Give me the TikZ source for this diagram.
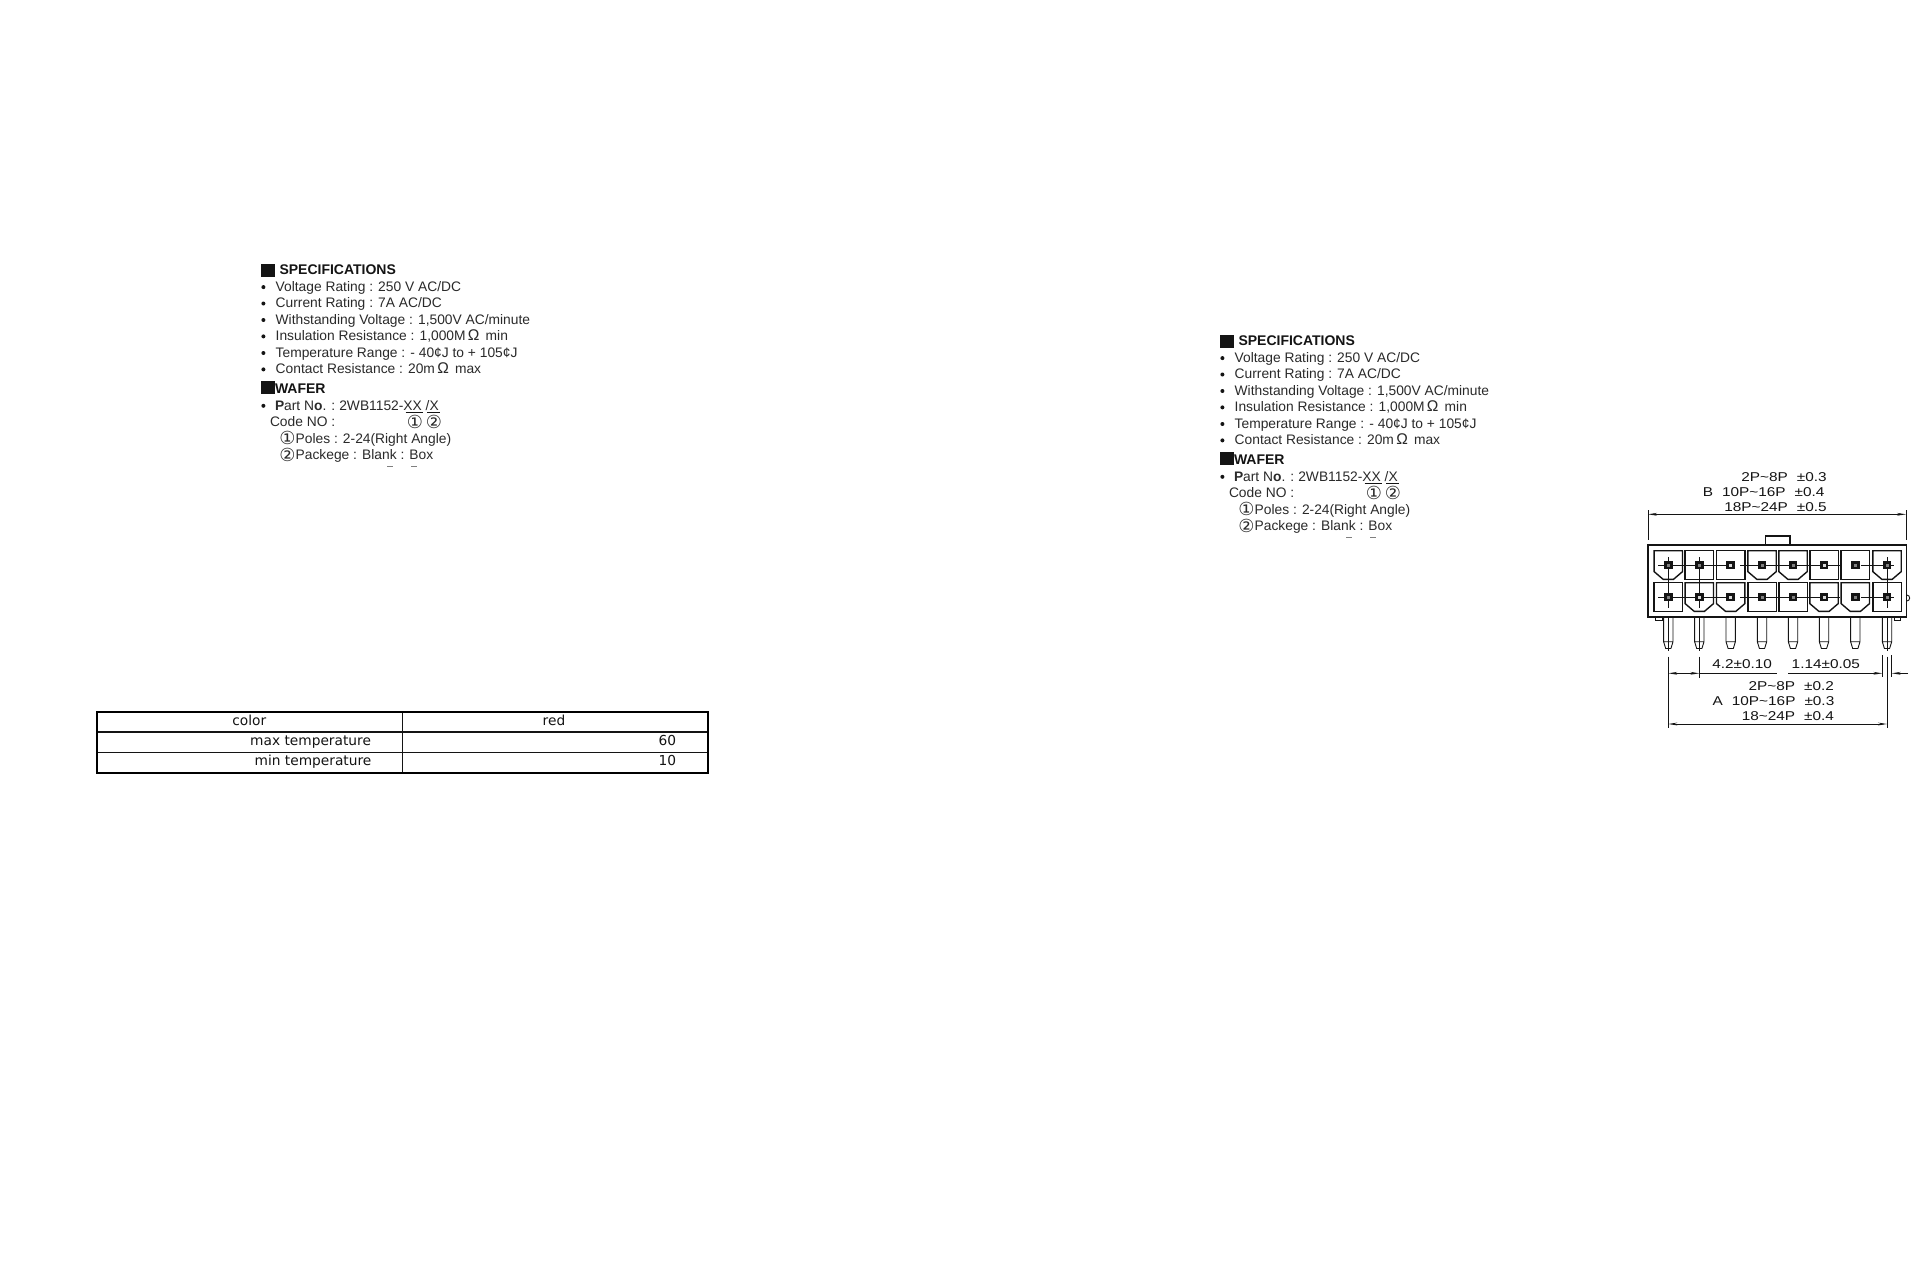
\documentclass[tikz,border=0pt]{standalone}
\usepackage{fontspec}
\usetikzlibrary{arrows.meta}
\setmainfont{Liberation Sans}
\newfontfamily\dejavu{DejaVu Sans}
\newfontfamily\cadfont[FakeStretch=1.2]{Liberation Sans}
\definecolor{ink}{HTML}{141414}
\definecolor{soft}{HTML}{2A2A2A}
\newcommand{\spectext}{\fontsize{13.8}{16}\selectfont\color{soft}}
\newcommand{\circtext}{\dejavu\fontsize{18}{18}\selectfont\color{soft}}
\newcommand{\tld}{\char"007E\relax}
\tikzset{
  x=1pt,y=-1pt,
  spec/.style={anchor=base west,inner sep=0pt,outer sep=0pt,font=\spectext},
  spechead/.style={anchor=base west,inner sep=0pt,outer sep=0pt,font=\fontsize{14}{16}\selectfont\bfseries\color{ink}},
  circ/.style={anchor=center,inner sep=0pt,outer sep=0pt,font=\circtext},
  tabletext/.style={inner sep=0pt,outer sep=0pt,anchor=base,font=\dejavu\fontsize{13.75}{16}\selectfont\color{ink}},
  cad/.style={inner sep=0pt,outer sep=0pt,anchor=base east,font=\cadfont\fontsize{12.8}{15}\selectfont\color{ink}},
  cadw/.style={inner sep=0pt,outer sep=0pt,anchor=base west,font=\cadfont\fontsize{12.8}{15}\selectfont\color{ink}},
  body/.style={draw=ink,line width=1.2pt,line join=miter},
  cellline/.style={draw=ink,line width=1.4pt,line join=miter},
  thinline/.style={draw=ink,line width=0.9pt},
  centre/.style={draw=ink,line width=0.8pt},
  dim/.style={draw=ink,line width=0.8pt,{Stealth[length=9pt,width=2.8pt]}-{Stealth[length=9pt,width=2.8pt]}},
  dimr/.style={draw=ink,line width=0.8pt,-{Stealth[length=9pt,width=2.8pt]}},
  specblock/.pic={
    \fill[ink] (261,263.5) rectangle (274.5,276.5);
    \node[spechead] (head) at (279.5,274.5) {SPECIFICATIONS};
    \foreach \yy/\tt in {291.3/{Voltage Rating : 250 V AC/DC},
                         307.7/{Current Rating : 7A AC/DC},
                         324.2/{Withstanding Voltage : 1,500V AC/minute},
                         340.6/{Insulation Resistance : 1,000M\,{\fontsize{15.5}{16}\selectfont Ω}\, min},
                         357.2/{Temperature Range : - 40¢J to + 105¢J},
                         373.6/{Contact Resistance : 20m\,{\fontsize{15.5}{16}\selectfont Ω}\, max}}{
      \fill[ink] (263.4,\yy-4.2) circle (2);
      \node[spec] at (275.7,\yy) {\tt};
    }
    \fill[ink] (261,381) rectangle (274.5,394);
    \node[spechead] (wafer) at (275,393) {WAFER};
    \fill[ink] (263.4,405.8) circle (2);
    \node[spec] (part) at (275,410) {{\bfseries P}art N{\bfseries o}. :};
    \node[spec] (code) at (339.3,410) {2WB1152-XX /X};
    \draw[thinline] (405.5,412.5) -- (423,412.5) (427,412.5) -- (440,412.5);
    \node[spec] (codeno) at (270,426.7) {Code NO :};
    \node[circ] (c1) at (415,422.2) {①};
    \node[circ] (c2) at (434,422.2) {②};
    \node[circ] (c3) at (287.5,438.2) {①};
    \node[spec] (poles) at (295.7,443.3) {Poles : 2-24(Right Angle)};
    \node[circ] (c4) at (287.5,454.7) {②};
    \node[spec] (pack) at (295.7,459.7) {Packege : Blank : Box};
    \draw[draw=soft!60,line width=0.9pt] (387,466.3) -- (393,466.3) (411,466.3) -- (417,466.3);
  }
}
\newcommand{\cellsquare}[2]{\draw[cellline] (#1-14.2,#2-14.3) rectangle (#1+14.2,#2+14.3);}
\newcommand{\cellchamfer}[2]{\draw[cellline] (#1-14.2,#2-14.3) -- (#1+14.2,#2-14.3) -- (#1+14.2,#2+6.6) -- (#1+5.2,#2+14.3) -- (#1-5.2,#2+14.3) -- (#1-14.2,#2+6.6) -- cycle;}
\newcommand{\pinsquare}[3]{\fill[ink] (#1-4.3,#2-4.3) rectangle (#1+4.3,#2+4.3);\fill[#3] (#1-1.5,#2-1.5) rectangle (#1+1.5,#2+1.5);}
\newcommand{\pinbody}[1]{\draw[thinline,line join=round] (#1-4.7,617) -- (#1-4.7,641.7) -- (#1-2.6,648.5) -- (#1+2.6,648.5) -- (#1+4.7,641.7) -- (#1+4.7,617) (#1-4.7,641.7) -- (#1+4.7,641.7);}
\begin{document}
\begin{tikzpicture}
\path[fill=white,use as bounding box] (0,0) rectangle (1920,1280);

% text blocks
\pic (L) at (0,0) {specblock};
\pic (R) at (959,71) {specblock};

% table
\coordinate (tnw) at (96.7,711.7);
\coordinate (tse) at (707.7,772.7);
\draw[draw=ink,line width=1.2pt] (96.7,732) -- (707.7,732) (96.7,752.3) -- (707.7,752.3);
\draw[draw=ink,line width=1.2pt] (402.3,711.7) -- (402.3,772.7);
\draw[draw=black,line width=1.8pt] (tnw) rectangle (tse);
\node[tabletext] (t1) at (249.3,725.4) {color};
\node[tabletext] (t2) at (554,725.4) {red};
\node[tabletext,anchor=base east] (t3) at (371,745.5) {max temperature};
\node[tabletext,anchor=base east] (t4) at (676,745.5) {60};
\node[tabletext,anchor=base east] (t5) at (371.4,765.5) {min temperature};
\node[tabletext,anchor=base east] (t6) at (676,765.5) {10};

% connector housing
\draw[body] (1648,545) rectangle (1906.7,617);
\draw[body] (1765.3,545) -- (1765.3,536) -- (1790,536) -- (1790,545);
\draw[thinline] (1906.7,595) arc[start angle=-90,end angle=90,radius=3] ;
\draw[thinline] (1655,617) -- (1655,620.3) -- (1662,620.3) -- (1662,617);
\draw[thinline] (1894,617) -- (1894,620.3) -- (1900,620.3) -- (1900,617);

% cells, top row
\foreach \cx in {1699.3,1730.7,1824,1855.3}{\cellsquare{\cx}{565}}
\foreach \cx in {1668.3,1762,1793,1887}{\cellchamfer{\cx}{565}}
% cells, bottom row
\foreach \cx in {1668.3,1762,1793,1887}{\cellsquare{\cx}{597}}
\foreach \cx in {1699.3,1730.7,1824,1855.3}{\cellchamfer{\cx}{597}}

% centre lines
\foreach \ry in {565,597}{
  \draw[centre] (1658,\ry) -- (1726,\ry) (1740,\ry) -- (1840,\ry) (1861,\ry) -- (1894,\ry);
}
\foreach \cx in {1668.3,1699.3,1887}{\draw[centre] (\cx,557) -- (\cx,608);}

% terminal squares
\foreach \cx in {1668.3,1699.3,1762,1793,1855.3,1887}{\pinsquare{\cx}{565}{gray}}
\foreach \cx in {1730.7,1824}{\pinsquare{\cx}{565}{white!85!black}}
\foreach \cx in {1668.3,1762,1793,1855.3,1887}{\pinsquare{\cx}{597}{gray}}
\foreach \cx in {1699.3,1730.7,1824}{\pinsquare{\cx}{597}{white!85!black}}

% pins
\foreach \cx in {1668.3,1699.3,1730.7,1762,1793,1824,1855.3,1887}{\pinbody{\cx}}
\foreach \cx in {1668.3,1699.3,1887}{\draw[centre] (\cx,617) -- (\cx,651);}

% top dimension
\coordinate (bl) at (1648,514.3);
\coordinate (br) at (1906,514.3);
\draw[centre] (1648,510) -- (1648,540) (1906,510) -- (1906,540);
\draw[dim] (bl) -- (br);
\node[cad] (b1) at (1826.7,481.5) {2P\tld 8P\hspace{9pt}±0.3};
\node[cad] (b2) at (1824.5,496.5) {B\hspace{9pt}10P\tld 16P\hspace{9pt}±0.4};
\node[cad] (b3) at (1826.7,511) {18P\tld 24P\hspace{9pt}±0.5};

% lower dimensions
\coordinate (a1) at (1668.3,673.3);
\coordinate (a2) at (1699.3,673.3);
\coordinate (a3) at (1777.3,673.3);
\coordinate (a4) at (1788.3,673.3);
\coordinate (a5) at (1882.3,673.3);
\coordinate (a6) at (1908,673.3);
\coordinate (a7) at (1891.7,673.3);
\coordinate (c1) at (1668.3,724);
\coordinate (c2) at (1887,724);
\draw[centre] (1668.3,656.7) -- (1668.3,728) (1699.3,656.7) -- (1699.3,678);
\draw[centre] (1887,656.7) -- (1887,728);
\draw[centre] (1882.3,655) -- (1882.3,677) (1891.7,655) -- (1891.7,677);
\draw[dim] (a1) -- (a2);
\draw[centre] (a2) -- (a3);
\draw[dimr] (a4) -- (a5);
\draw[dimr] (a6) -- (a7);
\draw[dim] (c1) -- (c2);
\node[cadw] (d1) at (1712.3,668.5) {4.2±0.10};
\node[cadw] (d2) at (1791.7,668.5) {1.14±0.05};
\node[cad] (e1) at (1834,690) {2P\tld 8P\hspace{9pt}±0.2};
\node[cad] (e2) at (1834.3,705.3) {A\hspace{9pt}10P\tld 16P\hspace{9pt}±0.3};
\node[cad] (e3) at (1834,720.6) {18\tld 24P\hspace{9pt}±0.4};
\end{tikzpicture}
\end{document}
